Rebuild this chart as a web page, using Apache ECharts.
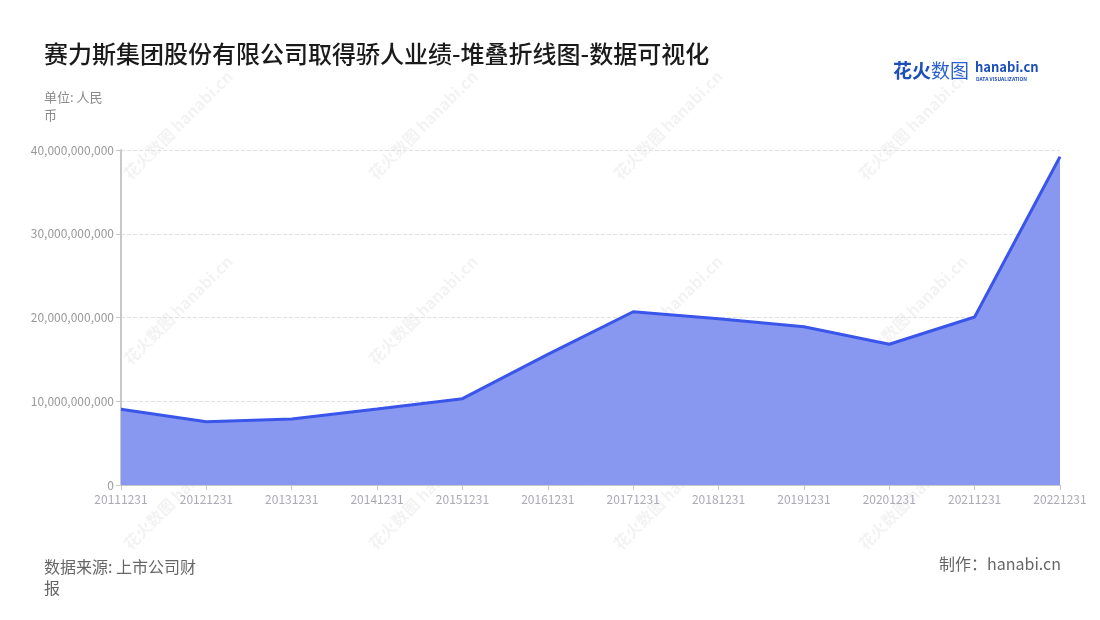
<!DOCTYPE html>
<html>
<head>
<meta charset="utf-8">
<script src="https://cdn.jsdelivr.net/npm/echarts@6/dist/echarts.min.js"></script>
<style>
html,body{margin:0;padding:0;background:#fff;}
#main{width:1100px;height:620px;}
</style>
</head>
<body>
<div id="main"></div>
<script>
const categories = ['20111231','20121231','20131231','20141231','20151231','20161231','20171231','20181231','20191231','20201231','20211231','20221231'];
const values = [9.04e9, 7.56e9, 7.88e9, 9.07e9, 10.31e9, 15.6e9, 20.69e9, 19.86e9, 18.9e9, 16.8e9, 20.06e9, 39.2e9];
const yTicks = [0, 10000000000, 20000000000, 30000000000, 40000000000];

const FONT = '"Noto Sans CJK SC","Noto Sans",sans-serif';
const chart = echarts.init(document.getElementById('main'));

const wm = [];
const wmX = [178, 423, 668, 913];
const wmY = [125, 310, 495];
wmX.forEach(x => wmY.forEach(y => {
  wm.push({
    type: 'text', x: x, y: y, rotation: Math.PI / 4, silent: true, z: 0,
    style: { text: '花火数图 hanabi.cn', fill: 'rgba(0,0,0,0.05)', font: 'bold 16px ' + FONT, textAlign: 'center', textVerticalAlign: 'middle' }
  });
}));

chart.setOption({
  backgroundColor: '#fff',
  textStyle: { fontFamily: FONT },
  title: {
    text: '赛力斯集团股份有限公司取得骄人业绩-堆叠折线图-数据可视化',
    left: 39, top: 37,
    textStyle: { fontSize: 24, fontWeight: 500, color: '#1a1a1a', fontFamily: FONT }
  },
  grid: { left: 121, right: 40, top: 150, bottom: 135 },
  xAxis: {
    type: 'category', data: categories, boundaryGap: false,
    axisLine: { lineStyle: { color: '#c8c8c8' } },
    axisTick: { show: true, alignWithLabel: true, lineStyle: { color: '#c8c8c8' } },
    axisLabel: { color: '#aaaab4', fontSize: 12, margin: 8, interval: 0, fontFamily: FONT }
  },
  yAxis: {
    type: 'value', min: yTicks[0], max: yTicks[yTicks.length - 1], interval: yTicks[1] - yTicks[0],
    axisLine: { show: true, lineStyle: { color: '#c8c8c8', width: 2 } },
    axisTick: { show: true, lineStyle: { color: '#c8c8c8' } },
    axisLabel: {
      color: '#999', fontSize: 12, margin: 7, fontFamily: FONT,
      formatter: v => v === 0 ? '0' : v.toLocaleString('en-US')
    },
    splitLine: { show: true, lineStyle: { color: '#e0e0e0', type: 'dashed' } }
  },
  series: [{
    type: 'line', data: values, symbol: 'none', stack: 'total',
    lineStyle: { color: '#3a55ea', width: 3 },
    itemStyle: { color: '#3a55ea' },
    areaStyle: { color: '#8898f1', opacity: 1 },
    z: 3
  }],
  graphic: wm.concat([
    { type: 'text', left: 44, top: 88, style: { text: '单位: 人民\n币', fill: '#8a8a8a', font: '13px ' + FONT, lineHeight: 18 } },
    { type: 'text', left: 44, top: 556, style: { text: '数据来源: 上市公司财\n报', fill: '#666', font: '16px ' + FONT, lineHeight: 21 } },
    { type: 'text', right: 39, top: 556, style: { text: '制作：hanabi.cn', fill: '#666', font: '16px ' + FONT } },
    { type: 'text', left: 893, top: 61, style: { text: '花火', fill: '#1d4fb8', font: 'bold 19px ' + FONT } },
    { type: 'text', left: 931, top: 61, style: { text: '数图', fill: '#2a62d0', font: '19px ' + FONT } },
    { type: 'text', left: 975, top: 61, style: { text: 'hanabi.cn', fill: '#1d4fb8', font: 'bold 13px ' + FONT } },
    { type: 'text', left: 976, top: 77, style: { text: 'DATA VISUALIZATION', fill: '#1d4fb8', font: 'bold 5px ' + FONT } }
  ])
});
</script>
</body>
</html>
